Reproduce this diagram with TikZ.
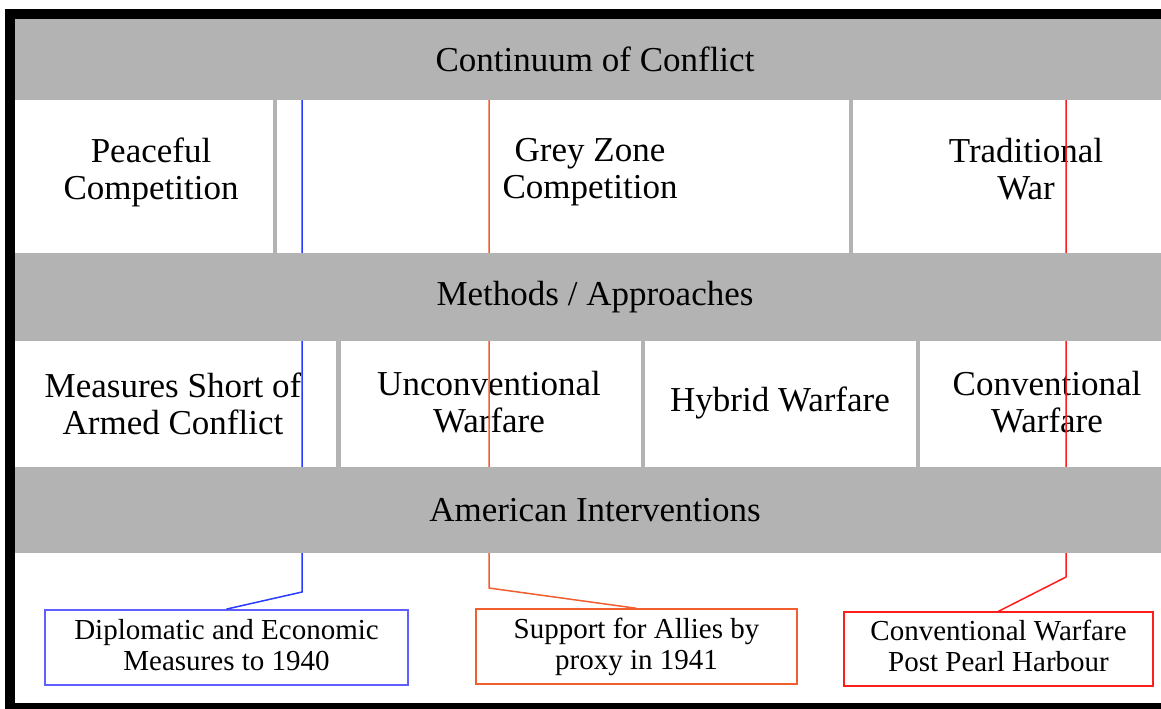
\documentclass[tikz,border=0pt]{standalone}
\usepackage{fontspec}
\setmainfont{Liberation Serif}
\definecolor{bandgrey}{RGB}{179,179,179}
\definecolor{proxyblue}{RGB}{40,60,255}
\definecolor{boxblue}{RGB}{95,95,255}
\definecolor{proxyorange}{RGB}{240,95,45}
\definecolor{warred}{RGB}{255,30,30}
\begin{document}
\begin{tikzpicture}[
    x=0.5pt, y=-0.5pt,
    every node/.style={inner sep=0pt, align=center},
    band/.style={rectangle, fill=bandgrey, minimum width=577.5pt, font=\fontsize{17.5}{18.5}\selectfont},
    label/.style={font=\fontsize{17.5}{18.5}\selectfont},
    link/.style={line width=0.75pt},
    event/.style={rectangle, draw, fill=white, line width=0.9pt, minimum height=37.5pt, text depth=3pt, font=\fontsize{14.5}{15.5}\selectfont}
]
\useasboundingbox (0,0) rectangle (1161,708);
% frame and cells
\fill[black] (5,9) rectangle (1175,716);
\fill[bandgrey] (15,19) rectangle (1175,703);
\fill[white] (15,100) rectangle (273,253);
\fill[white] (277,100) rectangle (849,253);
\fill[white] (853,100) rectangle (1175,253);
\fill[white] (15,341) rectangle (336,467);
\fill[white] (341,341) rectangle (641,467);
\fill[white] (645,341) rectangle (916,467);
\fill[white] (920,341) rectangle (1175,467);
\fill[white] (15,553) rectangle (1175,703);

\node[label] (peaceful) at (151,172) {Peaceful\\Competition};
\node[label] (greyzone) at (590,172) {Grey Zone\\Competition};
\node[label] (traditional) at (1026,169) {Traditional\\War};
\node[label] (measures) at (173,404) {Measures Short of\\Armed Conflict};
\node[label] (unconv) at (489,402) {Unconventional\\Warfare};
\node[label] (hybrid) at (780,403) {Hybrid Warfare};
\node[label] (conv) at (1047,402) {Conventional\\Warfare};

\node[event, draw=boxblue, minimum width=181.5pt] (diplomatic) at (226.5,647.5) {Diplomatic and Economic\\Measures to 1940};
\node[event, draw=proxyorange, line width=0.7pt, minimum width=160.5pt] (allies) at (636.5,646.5) {Support for Allies by\\proxy in 1941};
\node[event, draw=warred, line width=0.7pt, minimum width=154.5pt, minimum height=37pt] (pearl) at (998.5,649) {Conventional Warfare\\Post Pearl Harbour};

\coordinate (blueTop) at (302,100);
\coordinate (blueBend) at (302,592);
\coordinate (orangeTop) at (489,100);
\coordinate (orangeBend) at (489,588);
\coordinate (redTop) at (1066,100);
\coordinate (redBend) at (1066,577);
\draw[link, proxyblue] (blueTop) -- (blueBend) -- (diplomatic.north);
\draw[link, proxyorange] (orangeTop) -- (orangeBend) -- (allies.north);
\draw[link, warred] (redTop) -- (redBend) -- (pearl.north);

% grey bands on top of the lines
\node[band, minimum height=40pt] (continuum) at (595,59) {Continuum of Conflict};
\node[band, minimum height=44pt] (methods) at (595,297) {Methods / Approaches};
\node[band, minimum height=43pt] (american) at (595,510) {American Interventions};
\end{tikzpicture}
\end{document}
